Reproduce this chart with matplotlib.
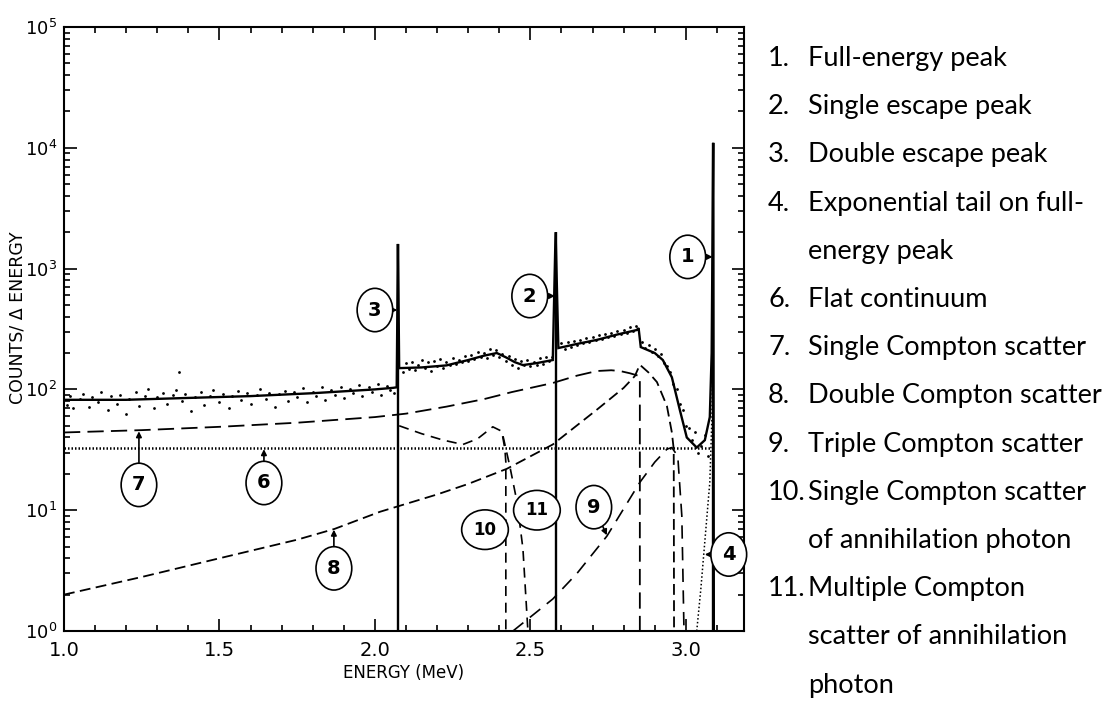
import matplotlib
matplotlib.use('Agg')
import matplotlib.pyplot as plt
from matplotlib.ticker import MultipleLocator, NullFormatter, FixedLocator, LogLocator

# ---------------- data ----------------
spec_E = [1.00, 1.20, 1.40, 1.60, 1.80, 2.00, 2.058, 2.070, 2.074, 2.078,
          2.15, 2.23, 2.30, 2.35, 2.392, 2.42, 2.45, 2.476, 2.52, 2.572,
          2.581, 2.590, 2.65, 2.714, 2.78, 2.842, 2.848, 2.855, 2.90, 2.926,
          2.955, 2.981, 3.003, 3.035, 3.061, 3.077, 3.083, 3.088, 3.090]
spec_C = [82, 82, 85, 88, 93, 100, 103, 104, 1600, 150,
          152, 158, 175, 190, 200, 185, 168, 159, 165, 175,
          2000, 220, 238, 257, 285, 310, 322, 224, 200, 175,
          126, 67, 40, 33, 38, 59, 200, 11000, 1]

dots_E = [1.01, 1.02, 1.03, 1.05, 1.06, 1.08, 1.09, 1.11, 1.12, 1.14, 1.15, 1.17, 1.18, 1.20,
          1.21, 1.23, 1.24, 1.26, 1.27, 1.29, 1.30, 1.32, 1.33, 1.35, 1.36, 1.37, 1.38, 1.39,
          1.41, 1.42, 1.44, 1.45, 1.47, 1.48, 1.50, 1.51, 1.53, 1.54, 1.56, 1.57, 1.59, 1.60,
          1.62, 1.63, 1.65, 1.66, 1.68, 1.69, 1.71, 1.72, 1.74, 1.75, 1.77, 1.78, 1.80, 1.81,
          1.83, 1.84, 1.86, 1.87, 1.89, 1.90, 1.92, 1.93, 1.95, 1.96, 1.98, 1.99, 2.01, 2.02,
          2.04, 2.05, 2.06,
          2.09, 2.10, 2.11, 2.12, 2.13, 2.14, 2.15, 2.16, 2.17, 2.18, 2.19, 2.20, 2.21, 2.22,
          2.23, 2.24, 2.25, 2.26, 2.27, 2.28, 2.29, 2.30, 2.31, 2.32, 2.33, 2.34, 2.35, 2.36,
          2.37, 2.38, 2.39, 2.40, 2.41, 2.42, 2.43, 2.44, 2.45, 2.46, 2.47, 2.48, 2.49, 2.50,
          2.51, 2.52, 2.53, 2.54, 2.55, 2.56, 2.57,
          2.60, 2.61, 2.62, 2.63, 2.64, 2.65, 2.66, 2.67, 2.68, 2.69, 2.70, 2.71, 2.72, 2.73,
          2.74, 2.75, 2.76, 2.77, 2.78, 2.79, 2.80, 2.81, 2.82, 2.83, 2.84,
          2.86, 2.87, 2.88, 2.89, 2.90, 2.91, 2.92, 2.93, 2.94, 2.95, 2.96, 2.97, 2.98, 2.99,
          3.00, 3.01, 3.02, 3.03, 3.04, 3.05, 3.06, 3.07]
dots_C = [74, 88, 70, 84, 92, 72, 86, 78, 95, 68, 88, 76, 90, 62,
          84, 96, 73, 89, 100, 70, 87, 93, 75, 90, 98, 140, 80, 91,
          66, 86, 95, 74, 89, 99, 78, 92, 70, 88, 97, 82, 93, 75,
          90, 100, 84, 94, 72, 92, 97, 80, 95, 86, 102, 78, 96, 88,
          105, 82, 98, 90, 104, 85, 100, 93, 108, 88, 104, 96, 110, 90,
          106, 98, 94,
          140, 165, 148, 170, 145, 160, 175, 150, 168, 142, 172, 155, 178, 150,
          170, 158, 182, 162, 176, 168, 190, 172, 192, 178, 205, 185, 200, 182,
          215, 192, 210, 185, 198, 172, 190, 160, 178, 150, 172, 158, 175, 155,
          170, 160, 182, 162, 186, 172, 185,
          240, 215, 245, 225, 250, 232, 258, 240, 265, 245, 272, 255, 280, 262,
          290, 270, 295, 278, 305, 285, 312, 295, 330, 305, 338,
          245, 220, 235, 205, 215, 190, 195, 165, 155, 140, 110, 100, 75, 68,
          50, 48, 38, 44, 30, 34, 42, 28]

flat_E = [1.0, 3.088]
flat_C = [33, 33]

single_E = [1.0, 1.25, 1.5, 1.75, 2.0, 2.1, 2.23, 2.35, 2.44, 2.572, 2.65, 2.714,
            2.76, 2.788, 2.82, 2.842, 2.852, 2.852]
single_C = [44, 46, 49, 53, 59, 63, 72, 83, 95, 113, 130, 142,
            144, 142, 136, 131, 128, 1]

double_E = [1.0, 1.25, 1.5, 1.75, 1.87, 2.016, 2.2, 2.3, 2.424, 2.572, 2.714, 2.8,
            2.836, 2.852, 2.88, 2.907, 2.939, 2.955, 2.961, 2.962]
double_C = [2.0, 2.8, 4.0, 5.7, 7.0, 9.7, 13.5, 16.5, 22, 35, 68, 103,
            129, 160, 138, 115, 73, 44, 32, 1]

triple_E = [2.444, 2.572, 2.65, 2.746, 2.852, 2.9, 2.939, 2.955, 2.974, 2.987, 2.994]
triple_C = [1.0, 1.84, 3.0, 6.1, 17, 25, 32, 33, 28, 9, 1]

ann1_E = [2.078, 2.15, 2.22, 2.283, 2.33, 2.379, 2.408, 2.418, 2.421, 2.421]
ann1_C = [50, 43, 38, 35, 39, 49, 45, 32, 25, 1]

ann2_E = [2.412, 2.434, 2.457, 2.476, 2.492]
ann2_C = [41, 23, 11.7, 4.8, 1]

tail_E = [3.035, 3.048, 3.061, 3.077, 3.084, 3.088]
tail_C = [1, 2.2, 5.5, 17, 60, 400]

peak_E = [3.088, 2.581, 2.074]
peak_C = [11000, 2000, 1600]

# label, text position (E, C), arrow target (E, C)
markers = [("1", (3.006, 1250), (3.086, 1250)),
           ("2", (2.498, 593), (2.579, 593)),
           ("3", (2.000, 454), (2.072, 454)),
           ("4", (3.138, 4.3), (3.061, 4.3)),
           ("6", (1.643, 16.8), (1.643, 32)),
           ("7", (1.241, 16.2), (1.241, 45)),
           ("8", (1.868, 3.3), (1.868, 6.9)),
           ("9", (2.704, 10.6), (2.746, 6.2)),
           ("10", (2.354, 6.9), (2.418, 6.9)),
           ("11", (2.521, 10.0), (2.462, 10.0))]

legend_num = ["1.", "2.", "3.", "4.", "", "6.", "7.", "8.", "9.", "10.", "", "11.", "", ""]
legend_txt = ["Full-energy peak", "Single escape peak", "Double escape peak",
              "Exponential tail on full-", "energy peak", "Flat continuum",
              "Single Compton scatter", "Double Compton scatter", "Triple Compton scatter",
              "Single Compton scatter", "of annihilation photon", "Multiple Compton",
              "scatter of annihilation", "photon"]

# ---------------- figure ----------------
W, H = 1111, 704
fig = plt.figure(figsize=(W / 100, H / 100), dpi=100)
ax_l, ax_r, ax_t, ax_b = 64, 744, 27, 631
ax = fig.add_axes([ax_l / W, 1 - ax_b / H, (ax_r - ax_l) / W, (ax_b - ax_t) / H])
ax.set_yscale('log')
ax.set_xlim(1.0, 3.187)
ax.set_ylim(1, 1e5)

k = 'black'
ax.scatter(dots_E, dots_C, s=4, color=k, lw=0)
ax.plot(spec_E, spec_C, color=k, lw=1.7, solid_joinstyle='miter')
ax.vlines(peak_E, 1, peak_C, color=k, lw=1.7)
ax.plot(flat_E, flat_C, color=k, lw=1.8, linestyle=(0, (0.6, 0.8)))
ax.plot(single_E, single_C, color=k, lw=1.3, linestyle=(0, (9, 4)))
ax.plot(double_E, double_C, color=k, lw=1.3, linestyle=(0, (6, 3)))
ax.plot(triple_E, triple_C, color=k, lw=1.2, linestyle=(0, (8, 5)))
ax.plot(ann1_E, ann1_C, color=k, lw=1.2, linestyle=(0, (6, 4)))
ax.plot(ann2_E, ann2_C, color=k, lw=1.2, linestyle=(0, (6, 4)))
ax.plot(tail_E, tail_C, color=k, lw=1.1, linestyle=(0, (1, 1.5)))

for lab, (tx, ty), (axx, ayy) in markers:
    fs = 12 if len(lab) == 2 else 14
    ax.annotate(lab, xy=(axx, ayy), xytext=(tx, ty), ha='center', va='center',
                fontsize=fs, fontweight='bold', family='DejaVu Sans',
                bbox=dict(boxstyle='ellipse,pad=0.3', fc='white', ec=k, lw=1.2),
                arrowprops=dict(arrowstyle='-|>', color=k, lw=1.2, mutation_scale=8,
                                shrinkA=0, shrinkB=0),
                annotation_clip=False)

# ticks
ax.xaxis.set_major_locator(FixedLocator([1.0, 1.5, 2.0, 2.5, 3.0]))
ax.xaxis.set_minor_locator(MultipleLocator(0.1))
ax.set_xticklabels(['1.0', '1.5', '2.0', '2.5', '3.0'])
ax.yaxis.set_minor_locator(LogLocator(base=10, subs=range(2, 10), numticks=20))
ax.yaxis.set_minor_formatter(NullFormatter())
ax.set_yticks([1, 10, 100, 1000, 1e4, 1e5])
ax.set_yticklabels([r'$\mathregular{10^{0}}$', r'$\mathregular{10^{1}}$', r'$\mathregular{10^{2}}$',
                    r'$\mathregular{10^{3}}$', r'$\mathregular{10^{4}}$', r'$\mathregular{10^{5}}$'])
ax.tick_params(which='both', direction='in', top=True, right=True, width=1.2, colors=k)
ax.tick_params(which='major', length=9, pad=6)
ax.tick_params(axis='x', which='major', labelsize=14, pad=7)
ax.tick_params(axis='y', which='major', labelsize=13, pad=5)
ax.tick_params(which='minor', length=4)
for s in ax.spines.values():
    s.set_linewidth(1.5)

ax.set_xlabel('ENERGY (MeV)', fontsize=12, labelpad=3)
fig.text(18 / W, 1 - 318 / H, 'COUNTS/ \u0394 ENERGY', rotation=90, ha='center', va='center',
         fontsize=12.5)

# legend text on the right
fam = ['Lato', 'DejaVu Sans']
for i, (n, t) in enumerate(zip(legend_num, legend_txt)):
    yc = 56 + i * 48.2
    yb = yc + 10
    if n:
        fig.text(768 / W, 1 - yb / H, n, ha='left', va='baseline', fontsize=19.5, family=fam)
    fig.text(808 / W, 1 - yb / H, t, ha='left', va='baseline', fontsize=19.5, family=fam)

fig.savefig('out.png', dpi=100)
